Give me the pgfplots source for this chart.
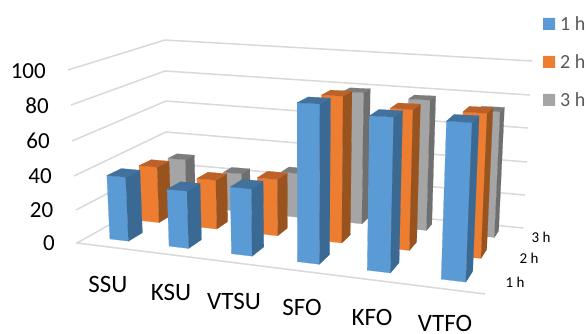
\documentclass[border=0pt]{standalone}
\usepackage{fontspec}
\setmainfont{Carlito}
\usepackage{pgfplots}
\usepackage{pgfplotstable}
\pgfplotsset{compat=1.18}

% bar heights, one column per duration
\pgfplotstableread{
cat  h1    h2    h3
SSU  38.1  34.7  30.3
KSU  33.4  29.9  24.3
VTSU 38.1  33.6  27.6
SFO  86.5  83.7  78.9
KFO  81.9  78.4  76.5
VTFO 81.5  78.6  72.0
}\barvalues

\definecolor{blueF}{HTML}{5B9BD5}
\definecolor{blueS}{HTML}{3A6A93}
\definecolor{blueT}{HTML}{41719C}
\definecolor{orangeF}{HTML}{ED7D31}
\definecolor{orangeS}{HTML}{99531F}
\definecolor{orangeT}{HTML}{BC6127}
\definecolor{grayF}{HTML}{A5A5A5}
\definecolor{grayS}{HTML}{6F6F6F}
\definecolor{grayT}{HTML}{7C7C7C}
\definecolor{gridc}{HTML}{D9D9D9}
\definecolor{legtext}{HTML}{595959}

% perspective projection of (u,v,w) in the unit cube onto the page
\newcommand\project[5]{%
  \pgfmathsetmacro\den{1-0.15776*#1+0.15965*#2-0.04*#3}%
  \pgfmathsetmacro#4{(331.49*#1+115.5*#2-12.2*#3+77)/\den}%
  \pgfmathsetmacro#5{(4.62*#1-19.19*#2-175*#3+243)/\den}%
}

\def\projecttriple(#1,#2,#3)#4#5{\project{#1}{#2}{#3}#4#5}

% one filled face: colour, four corners as (u,v,w)
\newcommand\quadface[5]{%
  \edef\tmpcol{#1}%
  \projecttriple#2\xa\ya
  \projecttriple#3\xb\yb
  \projecttriple#4\xc\yc
  \projecttriple#5\xd\yd
  \edef\doit{\noexpand\addplot[fill=\tmpcol,draw=\tmpcol,line width=0.2pt] coordinates
    {(\xa,\ya)(\xb,\yb)(\xc,\yc)(\xd,\yd)(\xa,\ya)};}%
  \doit
}

% a whole bar: category index, row index, height, row depth, colour stem
\newcommand\drawbar[5]{%
  \pgfmathsetmacro\ua{(#1+0.37)/6}%
  \pgfmathsetmacro\ub{(#1+0.69)/6}%
  \pgfmathsetmacro\va{0.116+0.34*(#2-1)}%
  \pgfmathsetmacro\vb{\va+#4}%
  \pgfmathsetmacro\ww{#3/100}%
  \edef\expandedbar{\noexpand\barfaces{\ua}{\ub}{\va}{\vb}{\ww}{#5}}%
  \expandedbar
}
\newcommand\barfaces[6]{%
  \quadface{#6F}{(#1,#3,0)}{(#2,#3,0)}{(#2,#3,#5)}{(#1,#3,#5)}%
  \quadface{#6S}{(#2,#3,0)}{(#2,#4,0)}{(#2,#4,#5)}{(#2,#3,#5)}%
  \quadface{#6T}{(#1,#3,#5)}{(#2,#3,#5)}{(#2,#4,#5)}{(#1,#4,#5)}%
}

\begin{document}
\begin{tikzpicture}
\begin{axis}[
  scale only axis, width=588pt, height=334pt,
  xmin=0, xmax=588, ymin=0, ymax=334, y dir=reverse,
  hide axis, clip=false,
]
% wall and floor grid lines
\addplot[gridc,line width=1.5pt] coordinates {(68,70)(165,40)(532,61)};
\addplot[gridc,line width=1.5pt] coordinates {(71,105)(165,71)(530,95)};
\addplot[gridc,line width=1.5pt] coordinates {(72,141)(166,101)(528,128)};
\addplot[gridc,line width=1.5pt] coordinates {(74,176)(166,132)(527,162)};
\addplot[gridc,line width=1.5pt] coordinates {(76,210)(166,163)(525,195)};
\addplot[gridc,line width=1.5pt] coordinates {(485,294)(77,243)(166,193)(523,228)};

% bars, rear row first
\foreach \s/\depth/\stem in {3/0.115/gray,2/0.14/orange,1/0.15/blue}{
  \foreach \k in {0,...,5}{
    \pgfplotstablegetelem{\k}{h\s}\of\barvalues
    \let\barh\pgfplotsretval
    \drawbar{\k}{\s}{\barh}{\depth}{\stem}
  }
}

% legend keys
\addplot[fill=blueF,draw=none] coordinates {(543,18)(555,18)(555,30)(543,30)(543,18)};
\addplot[fill=orangeF,draw=none] coordinates {(543,56)(555,56)(555,68)(543,68)(543,56)};
\addplot[fill=grayF,draw=none] coordinates {(543,94)(555,94)(555,106)(543,106)(543,94)};

% value labels on the left wall
\foreach \lab/\x/\y in {100/46/71,80/49/106,60/50/141,40/52/176,20/53.5/210,0/55/243}{
  \edef\doit{\noexpand\node[anchor=east,inner sep=0pt,font=\noexpand\fontsize{23}{23}\noexpand\selectfont] at (axis cs:\x,\y) {\lab};}\doit
}
% category labels along the front edge
\foreach \lab/\x/\y in {SSU/108/284,KSU/171/292,VTSU/234/301,SFO/302/307,KFO/372/317,VTFO/445/323.5}{
  \edef\doit{\noexpand\node[inner sep=0pt,font=\noexpand\fontsize{25}{25}\noexpand\selectfont] at (axis cs:\x,\y) {\lab};}\doit
}
% row labels on the right
\foreach \lab/\x/\y in {1 h/515/282,2 h/529/258,3 h/541/237}{
  \edef\doit{\noexpand\node[inner sep=0pt,font=\noexpand\fontsize{15}{15}\noexpand\selectfont] at (axis cs:\x,\y) {\lab};}\doit
}
% legend texts
\foreach \lab/\y in {1 h/24,2 h/62,3 h/100}{
  \edef\doit{\noexpand\node[anchor=west,inner sep=0pt,text=legtext,font=\noexpand\fontsize{20}{20}\noexpand\selectfont] at (axis cs:560,\y) {\lab};}\doit
}
\path[use as bounding box] (axis cs:0,0) rectangle (axis cs:588,334);
\end{axis}
\end{tikzpicture}
\end{document}
